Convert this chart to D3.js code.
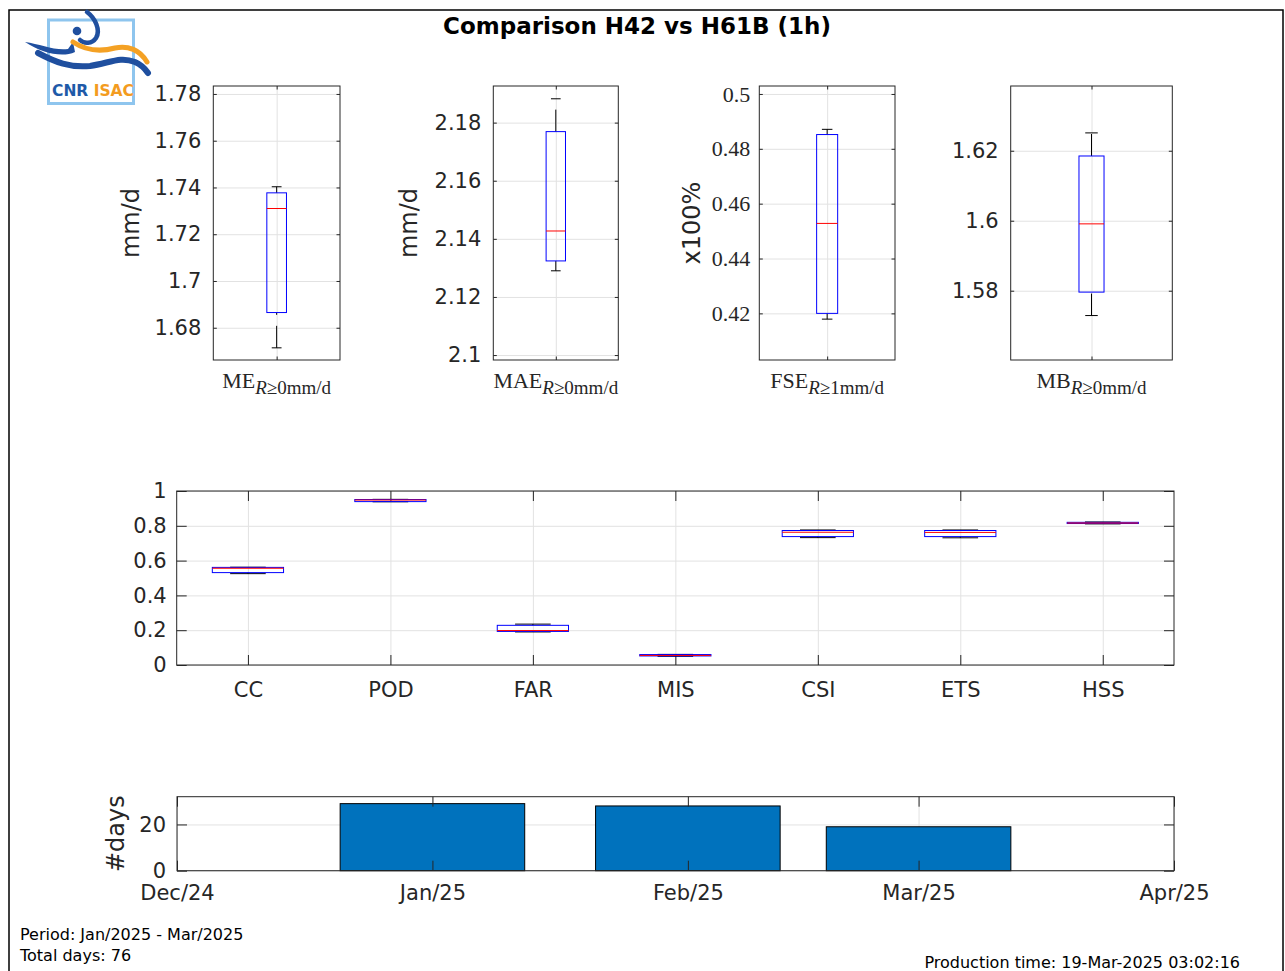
<!DOCTYPE html>
<html><head><meta charset="utf-8">
<script src="https://cdn.jsdelivr.net/npm/d3@7"></script>
<style>body{margin:0;background:#fff}svg{display:block}</style>
</head><body>
<svg id="c" width="1285" height="971"></svg>
<script>
// ---------------- DATA ----------------
const chartTitle = "Comparison H42 vs H61B (1h)";
// top box plots
const topMetrics = ["ME", "MAE", "FSE", "MB"];
const topSubscripts = ["R≥0mm/d", "R≥0mm/d", "R≥1mm/d", "R≥0mm/d"];
const topYLabels = ["mm/d", "mm/d", "x100%", ""];
const topYTicks = [[1.68, 1.7, 1.72, 1.74, 1.76, 1.78], [2.1, 2.12, 2.14, 2.16, 2.18], [0.42, 0.44, 0.46, 0.48, 0.5], [1.58, 1.6, 1.62]];
const topYLimits = [[1.6662, 1.7834], [2.0983, 2.1926], [0.403, 0.5029], [1.5602, 1.6385]];
const topLower  = [1.6714, 2.1290, 0.4179, 1.5729];
const topQ1     = [1.6865, 2.1324, 0.4200, 1.5796];
const topMedian = [1.7310, 2.1427, 0.4528, 1.5991];
const topQ3     = [1.7377, 2.1769, 0.4852, 1.6185];
const topUpper  = [1.7403, 2.1882, 0.4871, 1.6251];
// skill scores
const skillCats   = ["CC", "POD", "FAR", "MIS", "CSI", "ETS", "HSS"];
const skillLower  = [0.525, 0.938, 0.190, 0.050, 0.732, 0.731, 0.811];
const skillQ1     = [0.531, 0.939, 0.193, 0.052, 0.738, 0.738, 0.813];
const skillMedian = [0.556, 0.948, 0.198, 0.055, 0.763, 0.762, 0.816];
const skillQ3     = [0.561, 0.951, 0.228, 0.060, 0.773, 0.773, 0.820];
const skillUpper  = [0.562, 0.952, 0.235, 0.061, 0.776, 0.776, 0.822];
const skillYTicks = [0, 0.2, 0.4, 0.6, 0.8, 1];
// days per month
const monthDates = ["2025-01-01", "2025-02-01", "2025-03-01"];
const monthDays  = [29, 28, 19];
const dayTicks   = [0, 20];
const dateTickDates  = ["2024-12-01", "2025-01-01", "2025-02-01", "2025-03-01", "2025-04-01"];
const dateTickLabels = ["Dec/24", "Jan/25", "Feb/25", "Mar/25", "Apr/25"];
const footerLeft = ["Period: Jan/2025 - Mar/2025", "Total days: 76"];
const footerRight = "Production time: 19-Mar-2025 03:02:16";

// ---------------- DRAW ----------------
const svg = d3.select("#c");
const AX = "#262626", GRID = "#e2e2e2", SANS = "'DejaVu Sans', sans-serif", SERIF = "'Liberation Serif', 'Times New Roman', serif";
const BLUE = "#0000ff", RED = "#ff0000";

svg.append("rect").attr("x", 9).attr("y", 10).attr("width", 1274).attr("height", 990)
  .attr("fill", "none").attr("stroke", "#000").attr("stroke-width", 1.5);

// logo
const logo = svg.append("g");
logo.append("rect").attr("x", 48.5).attr("y", 20).attr("width", 85).attr("height", 83.5)
  .attr("fill", "none").attr("stroke", "#8ec5ee").attr("stroke-width", 3);
logo.append("path").attr("d", "M87,12 C95,18 101,30 96,38 C92,44 84,44 80,40")
  .attr("fill", "none").attr("stroke", "#1f4f9f").attr("stroke-width", 4.5).attr("stroke-linecap", "round");
logo.append("circle").attr("cx", 77).attr("cy", 31).attr("r", 4.3).attr("fill", "#1f4f9f");
logo.append("path").attr("d", "M25,42 C40,44 55,51 68,49 L73,42 L75,52 C62,58 42,53 25,42 Z").attr("fill", "#1f4f9f");
logo.append("path").attr("d", "M73,42 C85,50 100,52 115,48 C128,45 140,50 147,62")
  .attr("fill", "none").attr("stroke", "#f4a124").attr("stroke-width", 5).attr("stroke-linecap", "round");
logo.append("path").attr("d", "M38,53 C55,62 70,68 90,66 C110,63 120,56 135,62 C142,65 146,70 148,73")
  .attr("fill", "none").attr("stroke", "#1f4f9f").attr("stroke-width", 6).attr("stroke-linecap", "round");
const lt = logo.append("text").attr("x", 52).attr("y", 96).attr("font-family", SANS).attr("font-weight", "bold").attr("font-size", 15.5);
lt.append("tspan").attr("fill", "#1e5aa8").text("CNR ");
lt.append("tspan").attr("fill", "#f39c1f").text("ISAC");

// title
svg.append("text").attr("x", 637).attr("y", 34).attr("text-anchor", "middle")
  .attr("font-family", SANS).attr("font-weight", "bold").attr("font-size", 23).attr("fill", "#000").text(chartTitle);

function styleAxis(g, font, size) {
  g.attr("font-family", font).attr("font-size", size);
  g.select(".domain").remove();
  g.selectAll(".tick line").attr("stroke", AX);
  g.selectAll(".tick text").attr("fill", AX).attr("font-family", font).attr("font-size", size);
}
function gridOnly(g) {
  g.select(".domain").remove();
  g.selectAll(".tick line").attr("stroke", GRID).attr("stroke-width", 1);
  g.selectAll(".tick text").remove();
}
function boxplot(g, cx, halfW, y, lo, q1, md, q3, hi) {
  const dash = "22,11";
  g.append("line").attr("x1", cx).attr("x2", cx).attr("y1", y(q3)).attr("y2", y(hi))
    .attr("stroke", "#000").attr("stroke-dasharray", dash);
  g.append("line").attr("x1", cx).attr("x2", cx).attr("y1", y(lo)).attr("y2", y(q1))
    .attr("stroke", "#000").attr("stroke-dasharray", dash);
  [lo, hi].forEach(v => g.append("line").attr("x1", cx - halfW / 2).attr("x2", cx + halfW / 2)
    .attr("y1", y(v)).attr("y2", y(v)).attr("stroke", "#000"));
  g.append("rect").attr("x", cx - halfW).attr("width", 2 * halfW).attr("y", y(q3)).attr("height", Math.max(0.5, y(q1) - y(q3)))
    .attr("fill", "none").attr("stroke", BLUE).attr("stroke-width", 1);
  g.append("line").attr("x1", cx - halfW).attr("x2", cx + halfW).attr("y1", y(md)).attr("y2", y(md))
    .attr("stroke", RED).attr("stroke-width", 1);
}

// top panels
const topPos = [[213.3, 340], [493.3, 618.3], [759.3, 895], [1010.7, 1172.3]];
const topYlabelX = [131, 409, 692, 0];
const topTop = 86, topBot = 360;
topMetrics.forEach((m, i) => {
  const [x0, x1] = topPos[i];
  const x = d3.scaleLinear().domain([0, 1]).range([x0, x1]);
  const y = d3.scaleLinear().domain(topYLimits[i]).range([topBot, topTop]);
  const g = svg.append("g");
  const w = x1 - x0, h = topBot - topTop;
  g.append("g").attr("transform", `translate(${x0},0)`).call(d3.axisLeft(y).tickValues(topYTicks[i]).tickSize(-w)).call(gridOnly);
  g.append("g").attr("transform", `translate(0,${topBot})`).call(d3.axisBottom(x).tickValues([0.5]).tickSize(-h)).call(gridOnly);
  const isSerif = i === 2;
  g.append("g").attr("transform", `translate(${x0},0)`)
    .call(d3.axisLeft(y).tickValues(topYTicks[i]).tickSize(-3.5).tickPadding(isSerif ? 9 : 12).tickFormat(d3.format("~g")))
    .call(s => styleAxis(s, isSerif ? SERIF : SANS, isSerif ? 22 : 21));
  g.append("g").attr("transform", `translate(${x1},0)`)
    .call(d3.axisRight(y).tickValues(topYTicks[i]).tickSize(-3.5).tickFormat(""))
    .call(s => styleAxis(s, SANS, 10));
  g.append("g").attr("transform", `translate(0,${topBot})`)
    .call(d3.axisBottom(x).tickValues([0.5]).tickSize(-3.5).tickFormat(""))
    .call(s => styleAxis(s, SANS, 10));
  g.append("g").attr("transform", `translate(0,${topTop})`)
    .call(d3.axisTop(x).tickValues([0.5]).tickSize(-3.5).tickFormat(""))
    .call(s => styleAxis(s, SANS, 10));
  g.append("rect").attr("x", x0).attr("y", topTop).attr("width", w).attr("height", h)
    .attr("fill", "none").attr("stroke", AX).attr("stroke-width", 1);
  const halfW = 0.155 * (x(1) - x(0)) / 2;
  boxplot(g, x(0.5), halfW, y, topLower[i], topQ1[i], topMedian[i], topQ3[i], topUpper[i]);
  // x label
  const t = g.append("text").attr("x", x(0.5)).attr("y", 388).attr("text-anchor", "middle")
    .attr("font-family", SERIF).attr("font-size", 22).attr("fill", AX);
  t.append("tspan").text(m);
  const sub = topSubscripts[i];
  t.append("tspan").attr("dy", 6).attr("font-size", 19).attr("font-style", "italic").text(sub[0]);
  t.append("tspan").attr("font-size", 19).text(sub.slice(1));
  if (topYLabels[i]) {
    g.append("text").attr("transform", `translate(${topYlabelX[i]},223) rotate(-90)`)
      .attr("text-anchor", "middle").attr("dy", "0.35em").attr("font-family", SANS).attr("font-size", 24)
      .attr("fill", AX).text(topYLabels[i]);
  }
});

// skills panel
{
  const x0 = 176.7, x1 = 1174, yt = 491, yb = 665;
  const x = d3.scaleLinear().domain([0.5, 7.5]).range([x0, x1]);
  const y = d3.scaleLinear().domain([0, 1]).range([yb, yt]);
  const g = svg.append("g");
  const idx = skillCats.map((_, i) => i + 1);
  g.append("g").attr("transform", `translate(${x0},0)`).call(d3.axisLeft(y).tickValues(skillYTicks).tickSize(-(x1 - x0))).call(gridOnly);
  g.append("g").attr("transform", `translate(0,${yb})`).call(d3.axisBottom(x).tickValues(idx).tickSize(-(yb - yt))).call(gridOnly);
  g.append("g").attr("transform", `translate(${x0},0)`)
    .call(d3.axisLeft(y).tickValues(skillYTicks).tickSize(-10).tickPadding(10).tickFormat(d3.format("~g")))
    .call(s => styleAxis(s, SANS, 21));
  g.append("g").attr("transform", `translate(${x1},0)`)
    .call(d3.axisRight(y).tickValues(skillYTicks).tickSize(-10).tickFormat(""))
    .call(s => styleAxis(s, SANS, 10));
  g.append("g").attr("transform", `translate(0,${yb})`)
    .call(d3.axisBottom(x).tickValues(idx).tickSize(-10).tickPadding(17).tickFormat(d => skillCats[d - 1]))
    .call(s => styleAxis(s, SANS, 21));
  g.append("g").attr("transform", `translate(0,${yt})`)
    .call(d3.axisTop(x).tickValues(idx).tickSize(-10).tickFormat(""))
    .call(s => styleAxis(s, SANS, 10));
  g.append("rect").attr("x", x0).attr("y", yt).attr("width", x1 - x0).attr("height", yb - yt)
    .attr("fill", "none").attr("stroke", AX).attr("stroke-width", 1);
  const halfW = (x(1.25) - x(1));
  skillCats.forEach((c, i) => boxplot(g, x(i + 1), halfW, y, skillLower[i], skillQ1[i], skillMedian[i], skillQ3[i], skillUpper[i]));
}

// days panel
{
  const x0 = 177, x1 = 1174, yt = 796.7, yb = 870.7;
  const parse = d3.utcParse("%Y-%m-%d");
  const tickDates = dateTickDates.map(parse);
  const x = d3.scaleUtc().domain([tickDates[0], tickDates[tickDates.length - 1]]).range([x0, x1]);
  const y = d3.scaleLinear().domain([0, 32]).range([yb, yt]);
  const g = svg.append("g");
  g.append("g").attr("transform", `translate(${x0},0)`).call(d3.axisLeft(y).tickValues(dayTicks).tickSize(-(x1 - x0))).call(gridOnly);
  g.append("g").attr("transform", `translate(0,${yb})`).call(d3.axisBottom(x).tickValues(tickDates).tickSize(-(yb - yt))).call(gridOnly);
  const halfBar = 0.4 * 28 * 864e5;
  g.selectAll(".bar").data(monthDates).join("rect")
    .attr("x", d => x(new Date(+parse(d) - halfBar)))
    .attr("width", d => x(new Date(+parse(d) + halfBar)) - x(new Date(+parse(d) - halfBar)))
    .attr("y", (d, i) => y(monthDays[i]))
    .attr("height", (d, i) => y(0) - y(monthDays[i]))
    .attr("fill", "#0072BD").attr("stroke", "#000").attr("stroke-width", 1);
  g.append("g").attr("transform", `translate(${x0},0)`)
    .call(d3.axisLeft(y).tickValues(dayTicks).tickSize(-10).tickPadding(11).tickFormat(d3.format("d")))
    .call(s => styleAxis(s, SANS, 21));
  g.append("g").attr("transform", `translate(${x1},0)`)
    .call(d3.axisRight(y).tickValues(dayTicks).tickSize(-10).tickFormat(""))
    .call(s => styleAxis(s, SANS, 10));
  g.append("g").attr("transform", `translate(0,${yb})`)
    .call(d3.axisBottom(x).tickValues(tickDates).tickSize(-10).tickPadding(14).tickFormat((d, i) => dateTickLabels[i]))
    .call(s => styleAxis(s, SANS, 21));
  g.append("g").attr("transform", `translate(0,${yt})`)
    .call(d3.axisTop(x).tickValues(tickDates).tickSize(-10).tickFormat(""))
    .call(s => styleAxis(s, SANS, 10));
  g.append("rect").attr("x", x0).attr("y", yt).attr("width", x1 - x0).attr("height", yb - yt)
    .attr("fill", "none").attr("stroke", AX).attr("stroke-width", 1);
  g.append("text").attr("transform", `translate(116,${(yt + yb) / 2}) rotate(-90)`)
    .attr("text-anchor", "middle").attr("dy", "0.35em").attr("font-family", SANS).attr("font-size", 24)
    .attr("fill", AX).text("#days");
}

// footer
svg.append("text").attr("x", 20).attr("y", 940).attr("font-family", SANS)
  .attr("font-size", 16).attr("fill", "#000").text(footerLeft[0]);
svg.append("text").attr("x", 20).attr("y", 961).attr("font-family", SANS)
  .attr("font-size", 16).attr("fill", "#000").text(footerLeft[1]);
svg.append("text").attr("x", 1240).attr("y", 968).attr("text-anchor", "end").attr("font-family", SANS)
  .attr("font-size", 16).attr("fill", "#000").text(footerRight);
</script>
</body></html>
